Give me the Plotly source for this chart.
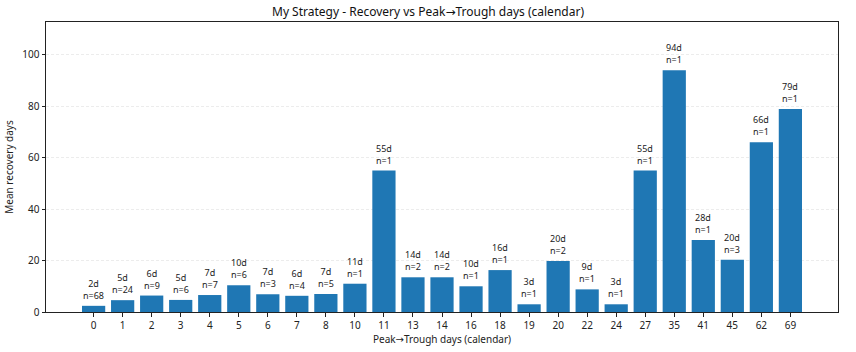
import plotly.graph_objects as go

peak_trough_days = ["0", "1", "2", "3", "4", "5", "6", "7", "8", "10", "11", "13", "14", "16", "18", "19",
                    "20", "22", "24", "27", "35", "41", "45", "62", "69"]
mean_recovery = [2.4, 4.6, 6.4, 4.7, 6.6, 10.4, 6.9, 6.3, 7.0, 11.0, 55.0, 13.5, 13.5, 10.0, 16.3, 3.0,
                 19.8, 8.8, 3.0, 55.0, 94.0, 28.0, 20.3, 66.0, 79.0]
counts = [68, 24, 9, 6, 7, 6, 3, 4, 5, 1, 1, 2, 2, 1, 1, 1, 2, 1, 1, 1, 1, 1, 3, 1, 1]

FONT = "Noto Sans, DejaVu Sans, sans-serif"
xs = list(range(len(peak_trough_days)))
labels = [f"{round(v)}d<br>n={n}" for v, n in zip(mean_recovery, counts)]

fig = go.Figure()
fig.add_trace(go.Bar(x=xs, y=mean_recovery, width=0.8, marker=dict(color="#1f77b4", line=dict(width=0)),
                     hoverinfo="skip"))
for xi, v, lab in zip(xs, mean_recovery, labels):
    fig.add_annotation(x=xi, y=v, text=lab, showarrow=False, yanchor="bottom", yshift=2,
                       font=dict(size=9, color="#222", family=FONT))

fig.update_layout(
    width=856, height=352, showlegend=False,
    margin=dict(l=46, r=18, t=22, b=40, autoexpand=False),
    paper_bgcolor="white", plot_bgcolor="white",
    font=dict(family=FONT, size=10, color="#222"),
    title=dict(text="My Strategy - Recovery vs Peak\u2192Trough days (calendar)", x=0.5, xanchor="center",
               y=1 - 12 / 352, yanchor="middle", font=dict(size=12, color="#111")),
    xaxis=dict(range=[-1.64, 25.64], tickmode="array", tickvals=xs, ticktext=peak_trough_days,
               showline=True, linecolor="#222", linewidth=1, mirror=True, ticks="outside", ticklen=3.5,
               tickcolor="#222", showgrid=False, zeroline=False, automargin=False,
               title=dict(text="Peak\u2192Trough days (calendar)", standoff=4, font=dict(size=10))),
    yaxis=dict(range=[0, 112.8], tickvals=[0, 20, 40, 60, 80, 100], showline=True, linecolor="#222",
               linewidth=1, mirror=True, ticks="outside", ticklen=3.5, tickcolor="#222", automargin=False,
               showgrid=True, gridcolor="#ececec", griddash="3px,2px", gridwidth=0.8, zeroline=False,
               title=dict(text="Mean recovery days", standoff=6, font=dict(size=10))),
)

fig.write_html("out.html")
